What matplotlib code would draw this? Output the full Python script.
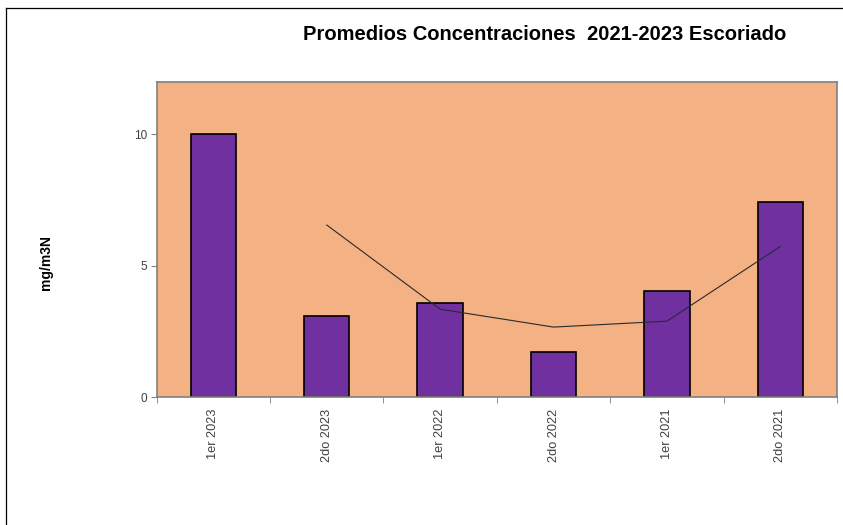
import numpy as np
import pandas as pd
import matplotlib.pyplot as plt
from matplotlib.lines import Line2D

plt.rcParams['font.family'] = ['Liberation Sans', 'DejaVu Sans']

periodos = ['1er 2023', '2do 2023', '1er 2022', '2do 2022', '1er 2021', '2do 2021']
concentracion = [10.0, 3.1, 3.6, 1.74, 4.05, 7.42]

# media movil de 2 periodos (linea de tendencia)
tendencia = pd.Series(concentracion).rolling(2).mean()

fig = plt.figure(figsize=(8.43, 5.25), dpi=100)
W, H = 843, 525
ax = fig.add_axes([156.7 / W, 1 - 397.3 / H, (837 - 156.7) / W, (397.3 - 81.7) / H])

x = np.arange(len(periodos))
ax.bar(x, concentracion, width=0.4, color='#7030A0', edgecolor='black', linewidth=1.2, zorder=2)
ax.plot(x, tendencia, color='#2a2a2a', linewidth=0.8, zorder=3)

ax.set_facecolor('#F4B183')
ax.set_xlim(-0.5, len(periodos) - 0.5)
ax.set_ylim(0, 12)
ax.set_yticks([0, 5, 10])

ax.set_xticks(x)
ax.set_xticklabels(periodos, rotation=90, fontsize=9.2, color='#404040')
ax.set_xticks(np.arange(len(periodos) + 1) - 0.5, minor=True)
ax.tick_params(axis='x', which='major', length=0, pad=8)
ax.tick_params(axis='x', which='minor', length=4, color='#808080', direction='out')
ax.tick_params(axis='y', length=4, color='#808080', labelsize=8.5, labelcolor='#404040', pad=3)

for s in ax.spines.values():
    s.set_color('#808080')
    s.set_linewidth(1.2)

fig.text(545 / W, 1 - 34 / H, 'Promedios Concentraciones  2021-2023 Escoriado',
         ha='center', va='center', fontsize=14.5, fontweight='bold')
fig.text(46 / W, 1 - 263 / H, 'mg/m3N', rotation=90, ha='center', va='center',
         fontsize=10, fontweight='bold')

# borde del area del grafico
fig.add_artist(Line2D([6 / W, 6 / W], [0, 1 - 8 / H], color='black', linewidth=0.9))
fig.add_artist(Line2D([6 / W, 1], [1 - 8 / H, 1 - 8 / H], color='black', linewidth=0.9))

fig.savefig('out.png', dpi=100)
